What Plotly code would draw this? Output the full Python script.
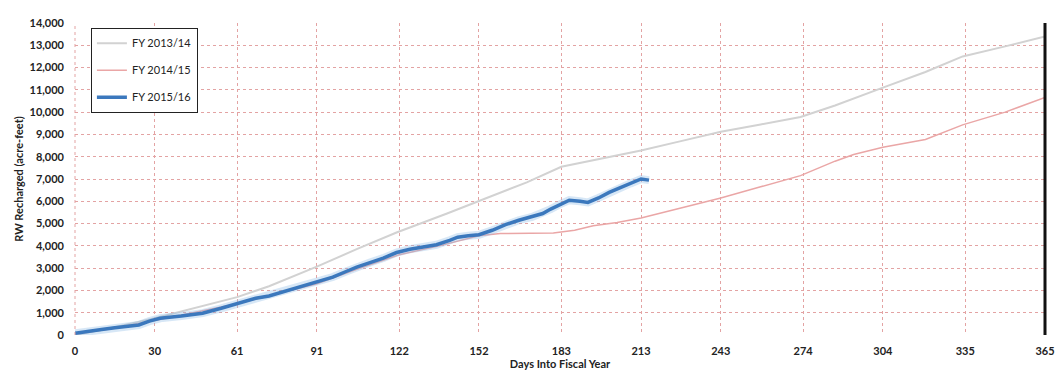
import plotly.graph_objects as go

# ---- data ----
x_ticks = [0, 30, 61, 91, 122, 152, 183, 213, 243, 274, 304, 335, 365]

fy1314_days = [0, 15, 30, 45, 61, 73, 91, 106, 121, 140, 152, 170, 183, 200, 213, 228, 243, 258, 273, 286, 293, 304, 320, 334, 350, 365]
fy1314_vals = [0, 350, 750, 1200, 1700, 2190, 3070, 3850, 4600, 5450, 6000, 6850, 7550, 7950, 8280, 8700, 9120, 9450, 9780, 10300, 10600, 11100, 11800, 12500, 12950, 13400]

fy1415_days = [0, 15, 30, 45, 61, 76, 91, 106, 122, 137, 152, 160, 170, 180, 188, 195, 204, 213, 228, 243, 258, 273, 286, 293, 304, 320, 334, 350, 365]
fy1415_vals = [50, 300, 650, 1000, 1400, 1850, 2300, 2950, 3600, 4000, 4450, 4550, 4560, 4580, 4700, 4900, 5050, 5250, 5700, 6150, 6650, 7150, 7800, 8100, 8420, 8770, 9430, 10000, 10660]

fy1516_days = [0, 5, 10, 15, 20, 24, 28, 32, 40, 48, 55, 61, 68, 73, 80, 86, 91, 97, 102, 106, 111, 116, 121, 126, 131, 136, 141, 144, 148, 152, 157, 162, 167, 172, 176, 179, 183, 186, 190, 193, 197, 201, 205, 209, 213, 216]
fy1516_vals = [80, 150, 250, 330, 400, 450, 620, 750, 850, 980, 1200, 1400, 1650, 1750, 2000, 2200, 2400, 2600, 2850, 3050, 3250, 3450, 3700, 3850, 3950, 4050, 4250, 4390, 4450, 4500, 4700, 4950, 5150, 5300, 5450, 5650, 5900, 6050, 6000, 5950, 6150, 6400, 6600, 6800, 7000, 6950]

FONT = "Lato, 'Open Sans', sans-serif"

fig = go.Figure()
fig.add_trace(go.Scatter(x=fy1314_days, y=fy1314_vals, mode="lines", name="FY 2013/14",
                         line=dict(color="#d2d2d2", width=2), legendgroup="a"))
fig.add_trace(go.Scatter(x=fy1415_days, y=fy1415_vals, mode="lines", name="FY 2014/15",
                         line=dict(color="#eaa6a6", width=1.5), legendgroup="b"))
fig.add_trace(go.Scatter(x=fy1516_days, y=fy1516_vals, mode="lines", showlegend=False,
                         line=dict(color="rgba(140,185,230,0.35)", width=8), hoverinfo="skip", legendgroup="c"))
fig.add_trace(go.Scatter(x=fy1516_days, y=fy1516_vals, mode="lines", name="FY 2015/16",
                         line=dict(color="#3b78bd", width=3.5), legendgroup="c"))

grid_col = "#e3a3a3"
fig.update_layout(
    width=1055, height=369,
    margin=dict(l=67, r=11, t=8, b=42),
    paper_bgcolor="white", plot_bgcolor="white",
    font=dict(family=FONT, size=11, color="#222"),
    showlegend=True,
    legend=dict(x=0.0164, y=0.985, xanchor="left", yanchor="top",
                bgcolor="white", bordercolor="#222", borderwidth=1,
                traceorder="grouped", tracegroupgap=8,
                font=dict(family=FONT, size=11, color="#222")),
    xaxis=dict(range=[0, 365], tickvals=x_ticks, ticktext=[str(v) for v in x_ticks],
               showgrid=True, gridcolor=grid_col, griddash="dot", gridwidth=1,
               zeroline=False, showline=False, ticks="", ticklabelstandoff=8,
               tickfont=dict(family=FONT, size=11, color="#222", weight="bold"),
               title=dict(text="<b>Days Into Fiscal Year</b>", font=dict(family=FONT, size=11, color="#222"), standoff=0)),
    yaxis=dict(range=[0, 14000], dtick=1000, tickformat=",",
               showgrid=True, gridcolor=grid_col, griddash="dot", gridwidth=1,
               zeroline=False, showline=False, ticks="", ticklabelstandoff=10,
               tickfont=dict(family=FONT, size=11, color="#222", weight="bold"),
               title=dict(text="<b>RW Recharged (acre-feet)</b>", font=dict(family=FONT, size=11, color="#222"), standoff=3)),
    shapes=[dict(type="line", xref="paper", yref="paper", x0=1, x1=1, y0=0, y1=1,
                 line=dict(color="#111", width=3)),
            dict(type="line", xref="paper", yref="paper", x0=0, x1=0, y0=0, y1=1,
                 line=dict(color=grid_col, width=1, dash="dot"))],
)

fig.write_html("out.html")
